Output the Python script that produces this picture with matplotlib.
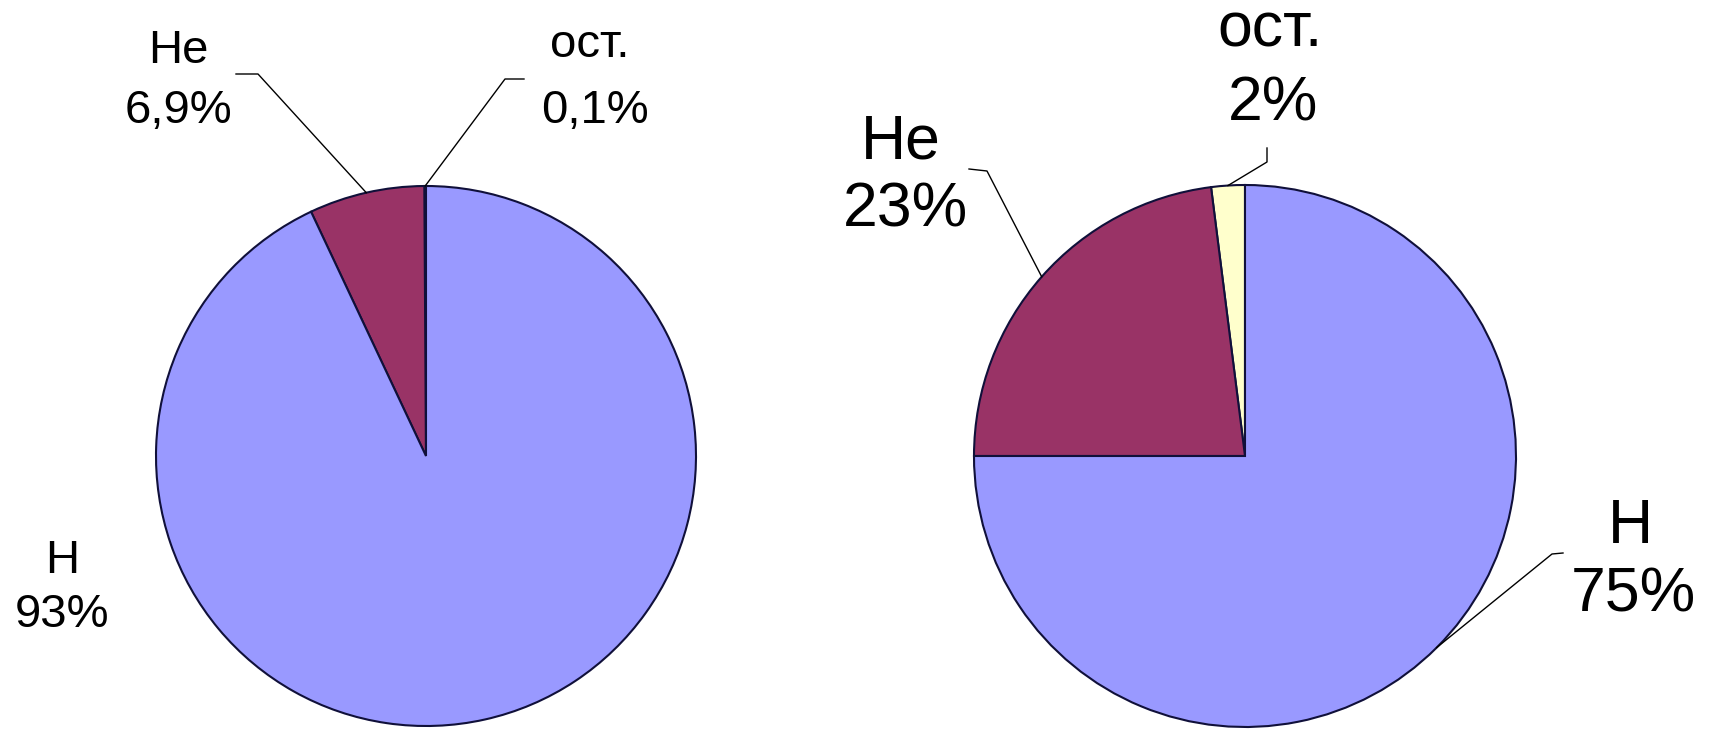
import matplotlib
matplotlib.use("Agg")
import matplotlib.pyplot as plt
import numpy as np

# ---------------- данные ----------------
categories = ["H", "He", "ост."]
left_values = [93, 6.9, 0.1]
left_labels = ["93%", "6,9%", "0,1%"]
right_values = [75, 23, 2]
right_labels = ["75%", "23%", "2%"]
colors = ["#9999FF", "#993366", "#FFFFCC"]

W, H = 1713, 729
plt.rcParams['font.family'] = ['Liberation Sans', 'DejaVu Sans']

fig = plt.figure(figsize=(W / 100, H / 100), dpi=100)
ax = fig.add_axes([0, 0, 1, 1])


def py(y):
    # пиксели (сверху вниз) -> координаты осей
    return H - y


def draw_pie(values, pct, center, radius, fsize, name_pos, pct_pos, leaders):
    # порядок против часовой стрелки от 90°: ост., He, H
    wedges, _ = ax.pie(values[::-1], colors=colors[::-1], startangle=90,
                       counterclock=True, center=(center[0], py(center[1])),
                       radius=radius, frame=True,
                       wedgeprops=dict(edgecolor="#10103a", linewidth=1.5))
    wedges = wedges[::-1]
    for i, w in enumerate(wedges):
        nx, ny = name_pos[i]
        px, pyy = pct_pos[i]
        ax.text(nx, py(ny), categories[i], ha="center", va="baseline", fontsize=fsize)
        ax.text(px, py(pyy), pct[i], ha="center", va="baseline", fontsize=fsize)
        if leaders[i] is None:
            continue
        (sx, sy), (ex, ey) = leaders[i]
        mid = np.deg2rad((w.theta1 + w.theta2) / 2)
        cx, cy = w.center
        tx, ty = cx + w.r * np.cos(mid), cy + w.r * np.sin(mid)
        ax.plot([sx, ex, tx], [py(sy), py(ey), ty], color="black", lw=1.0)


draw_pie(left_values, left_labels, (426, 456), 270, 34,
         name_pos=[(62, 573), (178, 63), (590, 57)],
         pct_pos=[(62, 627), (178, 123), (595, 123)],
         leaders=[None, ((236, 74), (258, 74)), ((524, 79), (505, 79))])

draw_pie(right_values, right_labels, (1245, 456), 271, 45,
         name_pos=[(1630, 543), (901, 158), (1270, 46)],
         pct_pos=[(1633, 612), (905, 226), (1273, 120)],
         leaders=[((1563, 553), (1552, 554)), ((969, 169), (987, 171)),
                  ((1267, 148), (1267, 162))])

ax.set_xlim(0, W)
ax.set_ylim(0, H)
ax.set_aspect("equal")
ax.axis("off")

fig.savefig("out.png", dpi=100, facecolor="white")
